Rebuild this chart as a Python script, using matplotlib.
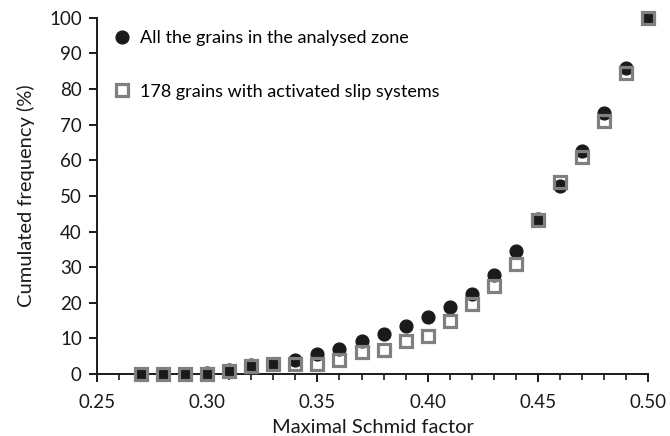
import matplotlib
matplotlib.use("Agg")
import matplotlib.pyplot as plt
from matplotlib.ticker import MultipleLocator, FormatStrFormatter

plt.rcParams['font.family'] = ['Lato', 'DejaVu Sans']

# Maximal Schmid factor bins
schmid = [0.27, 0.28, 0.29, 0.30, 0.31, 0.32, 0.33, 0.34, 0.35, 0.36, 0.37, 0.38,
          0.39, 0.40, 0.41, 0.42, 0.43, 0.44, 0.45, 0.46, 0.47, 0.48, 0.49, 0.50]

# cumulated frequency (%), all grains in the analysed zone
all_grains = [0.0, 0.0, 0.0, 0.4, 1.1, 2.5, 2.9, 3.9, 5.5, 7.0, 9.3, 11.2,
              13.6, 16.1, 18.9, 22.6, 27.8, 34.6, 43.4, 52.8, 62.6, 73.4, 86.0, 100.0]

# cumulated frequency (%), 178 grains with activated slip systems
active_grains = [0.0, 0.0, 0.0, 0.0, 0.75, 2.3, 2.9, 2.8, 2.9, 4.0, 6.2, 6.8,
                 9.2, 10.7, 14.8, 19.8, 24.8, 30.9, 43.2, 53.9, 61.0, 71.0, 84.5, 100.0]

fig = plt.figure(figsize=(6.7, 4.36), dpi=100)
ax = fig.add_axes([0.145, 0.142, 0.822, 0.817])

ax.plot(schmid, all_grains, 'o', color='#1a1a1a', markersize=9.2, linestyle='none',
        clip_on=False, zorder=3, label='All the grains in the analysed zone')
ax.plot(schmid, active_grains, 's', markerfacecolor='none', markeredgecolor='#808080',
        markeredgewidth=2.3, markersize=9.0, linestyle='none', clip_on=False, zorder=4,
        label='178 grains with activated slip systems')

ax.set_xlim(0.25, 0.50)
ax.set_ylim(0, 100)
ax.xaxis.set_major_locator(MultipleLocator(0.05))
ax.xaxis.set_minor_locator(MultipleLocator(0.01))
ax.xaxis.set_major_formatter(FormatStrFormatter('%.2f'))
ax.yaxis.set_major_locator(MultipleLocator(10))

for side in ['top', 'right']:
    ax.spines[side].set_visible(False)
for side in ['left', 'bottom']:
    ax.spines[side].set_linewidth(1.4)
    ax.spines[side].set_color('#1a1a1a')

ax.tick_params(axis='both', which='major', direction='out', length=6, width=1.4,
               labelsize=13.5, colors='#1a1a1a', pad=5)
ax.tick_params(axis='x', which='major', pad=8)
ax.tick_params(axis='x', which='minor', direction='out', length=4, width=1.2,
               colors='#1a1a1a')

ax.set_xlabel('Maximal Schmid factor', fontsize=14.5, color='#1a1a1a', labelpad=6)
ax.set_ylabel('Cumulated frequency (%)', fontsize=14.5, color='#1a1a1a', labelpad=10)

ax.legend(loc='upper left', bbox_to_anchor=(0.0, 0.995), frameon=False, fontsize=13,
          handletextpad=0.3, labelspacing=2.05, borderaxespad=0.2, handlelength=1.5)

fig.savefig('out.png', dpi=100)
